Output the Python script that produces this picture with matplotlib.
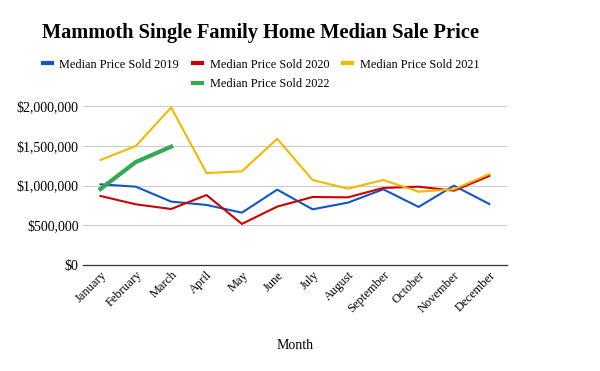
import matplotlib
matplotlib.use('Agg')
import matplotlib.pyplot as plt
from matplotlib.lines import Line2D
from matplotlib.ticker import FuncFormatter

months = ['January', 'February', 'March', 'April', 'May', 'June', 'July',
          'August', 'September', 'October', 'November', 'December']

# median sale prices
price_2019 = [1015000, 985000, 797000, 755000, 658000, 948000, 700000,
              784000, 952000, 730000, 998000, 767000]
price_2020 = [868000, 763000, 704000, 880000, 516000, 734000, 855000,
              851000, 969000, 985000, 935000, 1120000]
price_2021 = [1321000, 1497000, 1983000, 1157000, 1178000, 1589000, 1069000,
              960000, 1069000, 922000, 952000, 1145000]
price_2022 = [956000, 1296000, 1489000]

plt.rcParams['font.family'] = ['Liberation Serif', 'DejaVu Serif']

fig = plt.figure(figsize=(6, 3.71), dpi=100)
ax = fig.add_axes([0.138, 0.286, 0.707, 0.428])

x = list(range(len(months)))
l19, = ax.plot(x, price_2019, color='#1155cc', lw=1.5, label='Median Price Sold 2019')
l20, = ax.plot(x, price_2020, color='#cc0000', lw=1.5, label='Median Price Sold 2020')
l21, = ax.plot(x, price_2021, color='#f1b900', lw=1.5, label='Median Price Sold 2021', clip_on=False)
l22, = ax.plot(x[:len(price_2022)], price_2022, color='#34a853', lw=3, label='Median Price Sold 2022')

ax.set_xlim(-0.5, 11.5)
ax.set_ylim(0, 2000000)
ax.set_yticks([0, 500000, 1000000, 1500000, 2000000])
ax.yaxis.set_major_formatter(FuncFormatter(lambda v, p: '${:,.0f}'.format(v)))
ax.set_xticks(x)
ax.set_xticklabels(months, rotation=45, ha='right', rotation_mode='anchor', fontsize=9)
ax.tick_params(axis='y', labelsize=10, length=0, pad=3)
ax.tick_params(axis='x', length=0, pad=3)

ax.grid(axis='y', color='#cccccc', lw=0.8)
ax.set_axisbelow(True)
for s in ['top', 'right', 'left']:
    ax.spines[s].set_visible(False)
ax.spines['bottom'].set_color('#333333')
ax.spines['bottom'].set_linewidth(0.9)

ax.set_xlabel('Month', fontsize=10, labelpad=17)

fig.text(0.435, 0.912, 'Mammoth Single Family Home Median Sale Price',
         ha='center', va='center', fontsize=14.7, fontweight='bold')

# blank entries so 2022 sits under 2020 like the original
blank = Line2D([], [], alpha=0)
leg = fig.legend([l19, blank, l20, l22, l21, blank],
                 ['Median Price Sold 2019', '', 'Median Price Sold 2020',
                  'Median Price Sold 2022', 'Median Price Sold 2021', ''],
                 ncol=3, loc='center', bbox_to_anchor=(0.435, 0.8), frameon=False,
                 fontsize=8.8, handlelength=0.75, handletextpad=0.6, columnspacing=1.15,
                 labelspacing=0.6)
for h in leg.legend_handles:
    h.set_linewidth(3)

fig.savefig('out.png', dpi=100)
